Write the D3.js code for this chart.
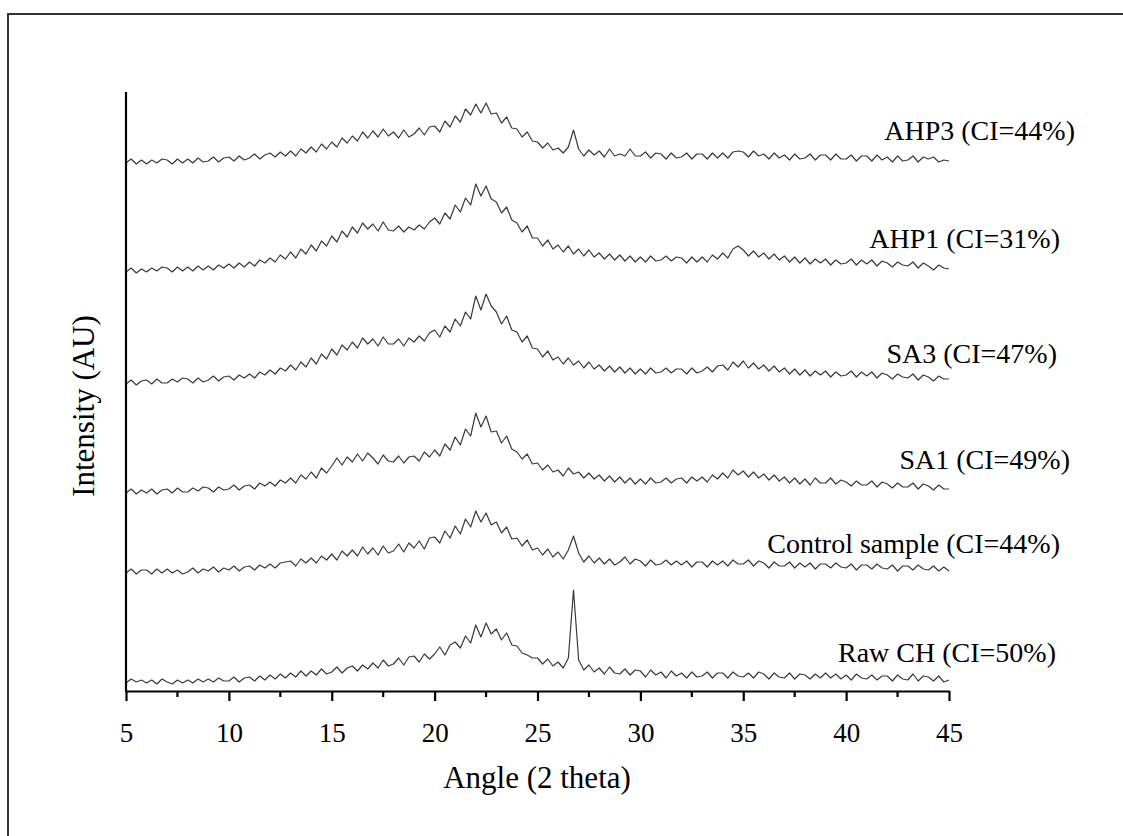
<!DOCTYPE html>
<html lang="en">
<head>
<meta charset="utf-8">
<title>XRD patterns</title>
<script src="https://cdn.jsdelivr.net/npm/d3@7"></script>
<style>
  body { margin: 0; background: #fff; }
  svg text { font-family: "Liberation Serif", "Times New Roman", serif; fill: #000; }
</style>
</head>
<body>
<div id="chart"></div>
<script>
// diffraction angle grid (2 theta), 0.25 deg step from 5 to 45
let angles = d3.range(5, 45.001, 0.25)

let names = ["Raw CH", "Control sample", "SA1", "SA3", "AHP1", "AHP3"]
let ciValues = [50, 44, 49, 47, 31, 44]
// vertical stacking offset of each pattern (AU)
let offsets = [8, 118, 198, 307, 419, 528]

// intensities, one value per 0.25 deg (4 per degree)
let rawCH = [
  0,4,1,3, 0,3,-1,4, 1,-1,3,0, 3,0,4,1, 4,1,5,2,
  2,6,1,5, 6,2,7,3, 8,4,9,5, 10,6,12,7, 12,8,14,9,
  11,16,10,15, 17,12,18,14, 20,15,23,17, 19,25,18,26, 27,21,29,24,
  29,36,28,38, 41,35,47,40, 58,46,60,49, 54,43,50,38, 37,30,28,25,
  25,19,24,17, 21,15,25,93, 23,13,18,11, 15,9,16,10, 9,14,8,13,
  12,6,13,8, 11,5,12,7, 10,5,11,6, 7,11,5,10, 10,5,11,7,
  6,10,5,11, 9,4,10,6, 5,10,4,9, 8,4,9,5, 10,5,9,4,
  8,3,9,5, 4,8,3,7, 7,2,8,4, 3,9,2,7, 6,2,7,1,
  3]

let control = [
  0,4,-1,3, 3,-1,4,0, 4,0,3,-1, 1,5,0,4, 2,6,1,5,
  3,7,2,6, 7,3,8,5, 9,5,10,11, 12,7,14,10, 15,10,17,13,
  19,13,22,17, 23,17,26,19, 25,18,27,20, 22,29,21,30, 25,32,24,35,
  36,30,42,35, 47,39,54,46, 62,51,60,48, 51,40,46,34, 35,27,33,23,
  25,18,24,16, 21,14,23,37, 20,11,17,10, 15,9,14,8, 11,16,9,14,
  12,7,13,8, 9,13,8,12, 8,12,6,11, 11,6,12,8, 12,7,13,9,
  9,13,7,12, 10,5,11,7, 7,11,5,10, 6,10,4,9, 9,5,10,6,
  5,9,3,8, 8,4,9,5, 4,8,2,7, 7,3,8,4, 3,7,2,6,
  2]

let sa1 = [
  0,4,-1,3, 0,4,-1,3, 4,0,5,1, 1,5,2,6, 5,1,6,3,
  4,8,3,7, 8,4,10,7, 11,7,13,10, 15,10,18,14, 21,15,25,20,
  27,35,28,36, 31,39,32,40, 35,29,38,32, 31,37,30,36, 37,32,41,36,
  43,37,49,43, 56,48,64,57, 80,66,77,61, 62,50,57,44, 41,34,39,29,
  30,23,28,21, 23,17,25,19, 21,15,20,14, 18,12,17,11, 16,10,15,9,
  14,9,15,10, 11,15,10,14, 15,10,16,12, 16,11,18,14, 20,15,23,18,
  22,16,21,15, 19,13,18,12, 16,10,15,9, 14,8,15,10, 10,15,9,13,
  11,7,12,8, 8,12,6,11, 9,5,10,6, 6,10,4,9, 7,3,8,4,
  4]

let sa3 = [
  0,4,-1,3, 4,0,5,1, 1,5,2,6, 5,1,6,2, 4,8,3,7,
  8,4,9,6, 10,6,12,9, 14,10,16,13, 19,14,22,17, 26,20,30,25,
  35,29,39,34, 42,36,46,40, 45,38,47,40, 40,45,38,46, 42,48,43,51,
  54,47,58,52, 65,58,72,65, 88,74,90,78, 72,60,68,54, 52,42,48,36,
  35,27,33,24, 27,20,26,19, 23,16,22,15, 19,13,18,12, 17,11,16,10,
  15,10,16,11, 12,16,11,15, 15,10,16,11, 13,17,12,18, 19,14,22,17,
  23,16,21,15, 19,13,18,12, 16,10,15,9, 14,8,13,9, 13,7,12,8,
  9,13,7,12, 8,12,6,11, 9,5,10,7, 6,10,4,9, 7,3,8,5,
  5]

let ahp1 = [
  0,4,-1,3, 0,4,1,5, 4,0,5,1, 5,1,6,2, 6,2,7,4,
  8,4,9,5, 10,6,12,9, 14,10,17,13, 20,14,23,18, 27,21,31,26,
  36,30,41,35, 45,39,49,43, 48,41,50,42, 41,46,40,45, 42,47,43,50,
  54,48,59,53, 67,60,74,67, 88,76,86,73, 70,59,65,52, 49,40,46,34,
  34,26,32,23, 27,20,26,18, 23,16,22,15, 19,13,18,12, 17,11,16,10,
  15,10,16,11, 12,16,11,15, 14,9,15,10, 15,10,17,13, 19,14,23,26,
  22,16,21,15, 19,13,18,12, 16,10,15,9, 14,8,13,9, 13,7,12,8,
  9,13,7,12, 8,12,6,11, 9,5,10,7, 6,10,4,9, 6,2,7,4,
  3]

let ahp3 = [
  0,4,-1,3, -1,3,0,4, 3,-1,4,0, 4,0,5,1, 2,6,1,5,
  6,2,7,3, 5,9,4,8, 10,6,11,7, 12,7,14,10, 16,11,19,14,
  21,16,25,20, 27,22,31,25, 32,26,34,27, 31,25,33,26, 29,35,28,36,
  37,31,42,36, 47,41,54,48, 59,50,60,49, 50,40,46,35, 34,26,31,22,
  21,15,20,13, 15,10,16,33, 14,7,13,8, 12,6,14,7, 9,7,14,7,
  7,11,5,10, 9,4,10,5, 6,10,4,9, 9,4,10,5, 10,5,11,12,
  11,6,12,7, 9,4,10,5, 8,3,9,4, 5,9,3,8, 8,3,9,4,
  4,8,2,7, 7,2,8,3, 6,1,7,2, 3,7,1,6, 4,6,1,3,
  2]

let seriesValues = [rawCH, control, sa1, sa3, ahp1, ahp3]
let xTicks = [5, 10, 15, 20, 25, 30, 35, 40, 45]

// label placement (right edge and baseline), in px
let labelRight = [1056, 1060, 1070, 1057, 1060, 1075]
let labelBase = [662, 553, 469, 363, 248, 140]

let w = 1123
let h = 836

let xScale = d3.scaleLinear()
               .domain([5, 45])
               .range([126, 949])

let yScale = d3.scaleLinear()
               .domain([0, 600])
               .range([691, 91])

let svg = d3.select("#chart")
            .append("svg")
            .attr("width", w)
            .attr("height", h)

// frame (only top and left edges visible)
svg.append("path")
   .attr("d", "M8,836 L8,14 L1123,14")
   .attr("fill", "none")
   .attr("stroke", "#333")
   .attr("stroke-width", 2)

let line = d3.line()
             .x(function(d) { return xScale(d[0]); })
             .y(function(d) { return yScale(d[1]); })

seriesValues.forEach(function(vals, i) {
  let pts = angles.map(function(a, j) { return [a, vals[j] + offsets[i]]; })
  svg.append("path")
     .datum(pts)
     .attr("d", line)
     .attr("fill", "none")
     .attr("stroke", "#3a3a3a")
     .attr("stroke-width", 1.2)
     .attr("stroke-linejoin", "round")

  svg.append("text")
     .attr("x", labelRight[i])
     .attr("y", labelBase[i])
     .attr("text-anchor", "end")
     .attr("font-size", 28)
     .text(names[i] + " (CI=" + ciValues[i] + "%)")
})

let xAxis = d3.axisBottom(xScale)
              .tickValues(xTicks)
              .tickSize(10)
              .tickPadding(22)
              .tickSizeOuter(0)

let gx = svg.append("g")
            .attr("transform", "translate(0,691)")
            .call(xAxis)
gx.select(".domain").attr("stroke-width", 2.2).attr("stroke", "#000")
gx.selectAll(".tick line").attr("stroke-width", 2.2).attr("stroke", "#000")
gx.selectAll(".tick text")
  .attr("font-size", 27)
  .attr("font-family", "Liberation Serif, serif")
  .attr("fill", "#000")

// minor ticks at half steps
let minor = xTicks.slice(0, -1).map(function(t) { return t + 2.5; })
svg.append("g")
   .selectAll("line")
   .data(minor)
   .join("line")
   .attr("x1", function(d) { return xScale(d); })
   .attr("x2", function(d) { return xScale(d); })
   .attr("y1", 691)
   .attr("y2", 697)
   .attr("stroke", "#000")
   .attr("stroke-width", 2.2)

// y axis: bare line, no ticks
svg.append("line")
   .attr("x1", 126).attr("x2", 126)
   .attr("y1", 92).attr("y2", 692)
   .attr("stroke", "#000")
   .attr("stroke-width", 2.2)

svg.append("text")
   .attr("x", 537)
   .attr("y", 788)
   .attr("text-anchor", "middle")
   .attr("font-size", 31)
   .text("Angle (2 theta)")

svg.append("text")
   .attr("transform", "translate(94,406) rotate(-90)")
   .attr("text-anchor", "middle")
   .attr("font-size", 31)
   .text("Intensity (AU)")
</script>
</body>
</html>
